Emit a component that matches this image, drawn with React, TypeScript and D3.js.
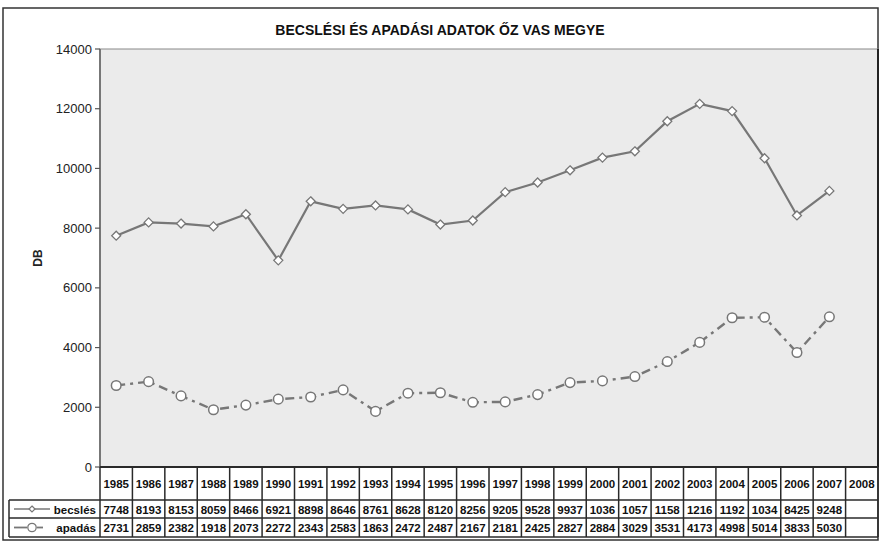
import React from "react";
import * as d3 from "d3";

const years = ["1985","1986","1987","1988","1989","1990","1991","1992","1993","1994","1995","1996","1997","1998","1999","2000","2001","2002","2003","2004","2005","2006","2007","2008"];
const becsles: (number | null)[] = [7748, 8193, 8153, 8059, 8466, 6921, 8898, 8646, 8761, 8628, 8120, 8256, 9205, 9528, 9937, 10362, 10573, 11581, 12163, 11920, 10341, 8425, 9248, null];
const apadas: (number | null)[] = [2731, 2859, 2382, 1918, 2073, 2272, 2343, 2583, 1863, 2472, 2487, 2167, 2181, 2425, 2827, 2884, 3029, 3531, 4173, 4998, 5014, 3833, 5030, null];
const yTicks = [0, 2000, 4000, 6000, 8000, 10000, 12000, 14000];
const title = "BECSLÉSI ÉS APADÁSI ADATOK ŐZ VAS MEGYE";
const yTitle = "DB";
const seriesNames = ["becslés", "apadás"];

export default function App() {
  const W = 881, H = 544;
  const L = 100, R = 878, T = 49, B = 467;
  const x = d3.scaleBand<string>().domain(years).range([L, R]);
  const y = d3.scaleLinear().domain([0, 14000]).range([B, T]);
  const cx = (yr: string) => (x(yr) as number) + x.bandwidth() / 2;
  const line = d3.line<[string, number | null]>()
    .defined(d => d[1] != null)
    .x(d => cx(d[0]))
    .y(d => y(d[1] as number));
  const bData = years.map((yr, i) => [yr, becsles[i]] as [string, number | null]);
  const aData = years.map((yr, i) => [yr, apadas[i]] as [string, number | null]);
  const lineColor = "#777";
  const font = "Arial, 'Liberation Sans', sans-serif";
  const rowTop = [B, 500, 518, 537];
  const tableLeft = 9;
  const dark = "#2a2a2a";
  const diamond = (px: number, py: number, r: number) =>
    `M${px},${py - r}L${px + r},${py}L${px},${py + r}L${px - r},${py}Z`;
  const vals = [becsles, apadas];
  const tfs = 11.5;
  return (
    <svg width={W} height={H} style={{ position: "absolute", left: 0, top: 0, background: "#fff" }} fontFamily={font}>
      <rect x={3} y={8} width={875} height={532} fill="#fff" stroke="#333" strokeWidth={1.5} />
      <text x={440} y={35} textAnchor="middle" fontSize={14} fontWeight="bold" fill="#111">{title}</text>
      <rect x={L} y={T} width={R - L} height={B - T} fill="#ebebeb" stroke="#8a8a8a" strokeWidth={1} />
      <line x1={R} y1={T} x2={R} y2={B} stroke="#222" strokeWidth={2} />
      <line x1={L} y1={T} x2={L} y2={B} stroke="#777" strokeWidth={2} />
      {yTicks.map(t => (
        <g key={t}>
          <line x1={L - 5} x2={L} y1={y(t)} y2={y(t)} stroke="#555" strokeWidth={1.2} />
          <text x={L - 8} y={y(t) + 4.5} textAnchor="end" fontSize={13} fill="#222">{t}</text>
        </g>
      ))}
      <text transform={`translate(42,${(T + B) / 2}) rotate(-90)`} textAnchor="middle" fontSize={12} fontWeight="bold" fill="#222">{yTitle}</text>
      {/* lines */}
      <path d={line(bData) || ""} fill="none" stroke={lineColor} strokeWidth={2.2} />
      <path d={line(aData) || ""} fill="none" stroke={lineColor} strokeWidth={2.4} strokeDasharray="9,5,3,5" />
      {bData.filter(d => d[1] != null).map(d => (
        <path key={"b" + d[0]} d={diamond(cx(d[0]), y(d[1] as number), 4.5)} fill="#fff" stroke={lineColor} strokeWidth={1.3} />
      ))}
      {aData.filter(d => d[1] != null).map(d => (
        <circle key={"a" + d[0]} cx={cx(d[0])} cy={y(d[1] as number)} r={4.8} fill="#fff" stroke={lineColor} strokeWidth={1.5} />
      ))}
      {/* table */}
      <line x1={L} x2={R} y1={B} y2={B} stroke={dark} strokeWidth={2} />
      {years.map(yr => (
        <line key={"v" + yr} x1={x(yr) as number} x2={x(yr) as number} y1={B} y2={rowTop[3]} stroke={dark} strokeWidth={1.5} />
      ))}
      <line x1={R} x2={R} y1={B} y2={rowTop[3]} stroke={dark} strokeWidth={1.5} />
      <line x1={tableLeft} x2={tableLeft} y1={rowTop[1]} y2={rowTop[3]} stroke={dark} strokeWidth={1.5} />
      {[1, 2, 3].map(k => (
        <line key={"h" + k} x1={tableLeft} x2={R} y1={rowTop[k]} y2={rowTop[k]} stroke={dark} strokeWidth={1.5} />
      ))}
      {years.map(yr => (
        <text key={"yl" + yr} x={cx(yr)} y={488} textAnchor="middle" fontSize={tfs} fontWeight="bold" fill="#111">{yr}</text>
      ))}
      {vals.map((arr, k) => (
        <g key={"row" + k}>
          {years.map((yr, i) => arr[i] == null ? null : (
            <text key={yr} x={cx(yr)} y={rowTop[k + 1] + 13.5} textAnchor="middle" fontSize={tfs} fontWeight="bold" fill="#111">
              {String(arr[i]).slice(0, 4)}
            </text>
          ))}
          <text x={L - 4} y={rowTop[k + 1] + 13.5} textAnchor="end" fontSize={tfs} fontWeight="bold" fill="#111">{seriesNames[k]}</text>
        </g>
      ))}
      {/* legend keys */}
      <line x1={14} x2={50} y1={509} y2={509} stroke={lineColor} strokeWidth={1.6} />
      <path d={diamond(32, 509, 3)} fill="#fff" stroke={lineColor} strokeWidth={1.2} />
      <line x1={14} x2={27} y1={527.5} y2={527.5} stroke={lineColor} strokeWidth={1.8} />
      <line x1={37} x2={43} y1={527.5} y2={527.5} stroke={lineColor} strokeWidth={1.8} />
      <circle cx={32} cy={527.5} r={4.2} fill="#fff" stroke={lineColor} strokeWidth={1.3} />
    </svg>
  );
}
